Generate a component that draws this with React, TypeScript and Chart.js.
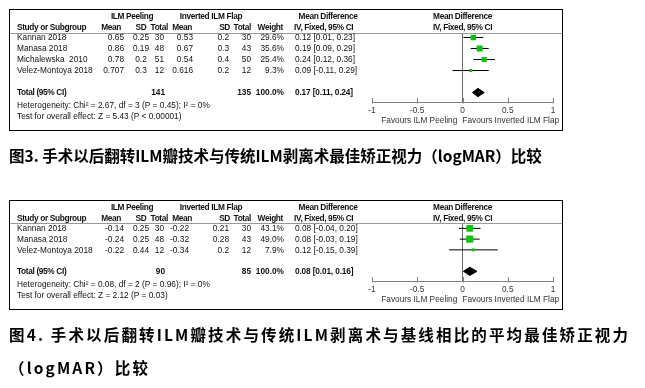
import React, { useEffect, useRef } from "react";
import { Chart, registerables } from "chart.js";

Chart.register(...registerables);

// ---------- Panel 1 (图3) data ----------
const P1_STUDIES = ["Kannan 2018", "Manasa 2018", "Michalewska  2010", "Velez-Montoya 2018"];
const P1_MEAN_PEEL = ["0.65", "0.86", "0.78", "0.707"];
const P1_SD_PEEL = ["0.25", "0.19", "0.2", "0.3"];
const P1_N_PEEL = [30, 48, 51, 12];
const P1_MEAN_FLAP = ["0.53", "0.67", "0.54", "0.616"];
const P1_SD_FLAP = ["0.2", "0.3", "0.4", "0.2"];
const P1_N_FLAP = [30, 43, 50, 12];
const P1_WEIGHT = [29.6, 35.6, 25.4, 9.3];
const P1_MD = [0.12, 0.19, 0.24, 0.09];
const P1_LO = [0.01, 0.09, 0.12, -0.11];
const P1_HI = [0.23, 0.29, 0.36, 0.29];
const P1_TOTAL_N = [141, 135];
const P1_TOTAL_CI = [0.17, 0.11, 0.24];
const P1_HET = "Heterogeneity: Chi\u00B2 = 2.67, df = 3 (P = 0.45); I\u00B2 = 0%";
const P1_TEST = "Test for overall effect: Z = 5.43 (P < 0.00001)";

// ---------- Panel 2 (图4) data ----------
const P2_STUDIES = ["Kannan 2018", "Manasa 2018", "Velez-Montoya 2018"];
const P2_MEAN_PEEL = ["-0.14", "-0.24", "-0.22"];
const P2_SD_PEEL = ["0.25", "0.25", "0.44"];
const P2_N_PEEL = [30, 48, 12];
const P2_MEAN_FLAP = ["-0.22", "-0.32", "-0.34"];
const P2_SD_FLAP = ["0.21", "0.28", "0.2"];
const P2_N_FLAP = [30, 43, 12];
const P2_WEIGHT = [43.1, 49.0, 7.9];
const P2_MD = [0.08, 0.08, 0.12];
const P2_LO = [-0.04, -0.03, -0.15];
const P2_HI = [0.2, 0.19, 0.39];
const P2_TOTAL_N = [90, 85];
const P2_TOTAL_CI = [0.08, 0.01, 0.16];
const P2_HET = "Heterogeneity: Chi\u00B2 = 0.08, df = 2 (P = 0.96); I\u00B2 = 0%";
const P2_TEST = "Test for overall effect: Z = 2.12 (P = 0.03)";

// ---------- shared axis / labels ----------
const AXIS_TICKS = [-1, -0.5, 0, 0.5, 1];
const AXIS_TICK_LABELS = ["-1", "-0.5", "0", "0.5", "1"];
const FAVOURS_LEFT = "Favours ILM Peeling";
const FAVOURS_RIGHT = "Favours Inverted ILM Flap";
const GROUP_A = "ILM Peeling";
const GROUP_B = "Inverted ILM Flap";
const COL_HEADERS = ["Study or Subgroup", "Mean", "SD", "Total", "Mean", "SD", "Total", "Weight"];
const MD_HEAD_1 = "Mean Difference";
const MD_HEAD_2 = "IV, Fixed, 95% CI";
const TOTAL_LABEL = "Total (95% CI)";

const CAPTION_1 = "图3. 手术以后翻转ILM瓣技术与传统ILM剥离术最佳矫正视力（logMAR）比较";
const CAPTION_2A = "图4. 手术以后翻转ILM瓣技术与传统ILM剥离术与基线相比的平均最佳矫正视力";
const CAPTION_2B = "（logMAR）比较";

const GREEN = "#10c010";
const FONT_FAMILY = '"Liberation Sans", Arial, sans-serif';
const FS = 8.3;
const FS_BOLD = 8.3;
const DIAMOND_HALF = 0.38;

type Panel = {
  studies: string[];
  meanA: string[]; sdA: string[]; nA: number[];
  meanB: string[]; sdB: string[]; nB: number[];
  weight: number[]; md: number[]; lo: number[]; hi: number[];
  totalN: number[]; totalCI: number[]; het: string; test: string;
  boxTop: number; boxBottom: number; areaTop: number; areaBottom: number;
  yMin: number; yMax: number; meanBRight: number;
};

const PANEL_1: Panel = {
  studies: P1_STUDIES, meanA: P1_MEAN_PEEL, sdA: P1_SD_PEEL, nA: P1_N_PEEL,
  meanB: P1_MEAN_FLAP, sdB: P1_SD_FLAP, nB: P1_N_FLAP, weight: P1_WEIGHT,
  md: P1_MD, lo: P1_LO, hi: P1_HI, totalN: P1_TOTAL_N, totalCI: P1_TOTAL_CI,
  het: P1_HET, test: P1_TEST,
  boxTop: 9, boxBottom: 130, areaTop: 33, areaBottom: 102, yMin: -0.41, yMax: 5.86, meanBRight: 193,
};

const PANEL_2: Panel = {
  studies: P2_STUDIES, meanA: P2_MEAN_PEEL, sdA: P2_SD_PEEL, nA: P2_N_PEEL,
  meanB: P2_MEAN_FLAP, sdB: P2_SD_FLAP, nB: P2_N_FLAP, weight: P2_WEIGHT,
  md: P2_MD, lo: P2_LO, hi: P2_HI, totalN: P2_TOTAL_N, totalCI: P2_TOTAL_CI,
  het: P2_HET, test: P2_TEST,
  boxTop: 200, boxBottom: 309, areaTop: 223, areaBottom: 281, yMin: -0.5, yMax: 4.9, meanBRight: 189,
};

const W = 645;
const H = 388;
const BOX_L = 9;
const BOX_R = 562;
const PLOT_L = 372;
const PLOT_R = 553;

const mdText = (m: number, l: number, h: number) => `${m.toFixed(2)} [${l.toFixed(2)}, ${h.toFixed(2)}]`;

function text(ctx: CanvasRenderingContext2D, s: string, x: number, y: number, align: CanvasTextAlign, bold = false, color = "#111", spacing = "-0.35px") {
  ctx.font = `${bold ? "bold " : ""}${bold ? FS_BOLD : FS}px ${FONT_FAMILY}`;
  (ctx as any).letterSpacing = bold ? spacing : "0px";
  ctx.textAlign = align;
  ctx.textBaseline = "middle";
  ctx.fillStyle = color;
  ctx.fillText(s, x, y);
}

function makePlugin(p: Panel) {
  return {
    id: "forestTable",
    afterDraw(chart: any) {
      const ctx: CanvasRenderingContext2D = chart.ctx;
      const xs = chart.scales.x;
      const ys = chart.scales.y;
      const area = chart.chartArea;
      ctx.save();
      // frame
      ctx.strokeStyle = "#000";
      ctx.lineWidth = 1;
      ctx.strokeRect(BOX_L + 0.5, p.boxTop + 0.5, BOX_R - BOX_L, p.boxBottom - p.boxTop);
      // header separator
      ctx.strokeStyle = "#9a9a9a";
      ctx.beginPath();
      ctx.moveTo(BOX_L + 1, Math.round(area.top) + 0.5);
      ctx.lineTo(BOX_R, Math.round(area.top) + 0.5);
      ctx.stroke();

      // headers
      const h1 = p.boxTop + 8;
      const h2 = p.boxTop + 18.5;
      text(ctx, GROUP_A, 132, h1, "center", true);
      text(ctx, GROUP_B, 211, h1, "center", true);
      text(ctx, MD_HEAD_1, 328, h1, "center", true);
      text(ctx, COL_HEADERS[0], 17, h2, "left", true);
      text(ctx, COL_HEADERS[1], 121, h2, "right", true);
      text(ctx, COL_HEADERS[2], 141, h2, "center", true);
      text(ctx, COL_HEADERS[3], 168, h2, "right", true);
      text(ctx, COL_HEADERS[4], 192, h2, "right", true);
      text(ctx, COL_HEADERS[5], 230, h2, "right", true);
      text(ctx, COL_HEADERS[6], 251, h2, "right", true);
      text(ctx, COL_HEADERS[7], 283, h2, "right", true);
      text(ctx, MD_HEAD_2, 294, h2, "left", true);
      const x0 = xs.getPixelForValue(0);
      text(ctx, MD_HEAD_1, x0, h1, "center", true);
      text(ctx, MD_HEAD_2, x0, h2, "center", true);

      // study rows
      p.studies.forEach((s, i) => {
        const y = ys.getPixelForValue(i) + 0.5;
        text(ctx, s, 17, y, "left");
        text(ctx, p.meanA[i], 124, y, "right");
        text(ctx, p.sdA[i], 141, y, "center");
        text(ctx, String(p.nA[i]), 164, y, "right");
        text(ctx, p.meanB[i], p.meanBRight, y, "right");
        text(ctx, p.sdB[i], 229, y, "right");
        text(ctx, String(p.nB[i]), 251, y, "right");
        text(ctx, `${p.weight[i].toFixed(1)}%`, 284, y, "right");
        text(ctx, mdText(p.md[i], p.lo[i], p.hi[i]), 295, y, "left");
      });

      // total row
      const totalRow = p.studies.length + 1;
      const ty = ys.getPixelForValue(totalRow) + 0.5;
      text(ctx, TOTAL_LABEL, 17, ty, "left", true);
      text(ctx, String(p.totalN[0]), 165, ty, "right", true, "#111", "0px");
      text(ctx, String(p.totalN[1]), 251, ty, "right", true, "#111", "0px");
      text(ctx, "100.0%", 284, ty, "right", true, "#111", "0px");
      text(ctx, mdText(p.totalCI[0], p.totalCI[1], p.totalCI[2]), 295, ty, "left", true, "#111", "-0.15px");
      text(ctx, p.het, 17, ty + 13, "left");
      text(ctx, p.test, 17, ty + 24, "left");

      // x axis
      const ay = Math.round(area.bottom) + 0.5;
      ctx.strokeStyle = "#808080";
      ctx.beginPath();
      ctx.moveTo(xs.getPixelForValue(AXIS_TICKS[0]), ay);
      ctx.lineTo(xs.getPixelForValue(AXIS_TICKS[AXIS_TICKS.length - 1]), ay);
      AXIS_TICKS.forEach((t) => {
        const tx = Math.round(xs.getPixelForValue(t)) + 0.5;
        ctx.moveTo(tx, ay - 4.5);
        ctx.lineTo(tx, ay + 1);
      });
      ctx.stroke();
      AXIS_TICKS.forEach((t, i) => {
        text(ctx, AXIS_TICK_LABELS[i], xs.getPixelForValue(t), ay + 8, "center", false, "#333");
      });
      text(ctx, FAVOURS_LEFT, xs.getPixelForValue(-0.5) + 2, ay + 18, "center", false, "#333");
      text(ctx, FAVOURS_RIGHT, xs.getPixelForValue(0.5) + 3, ay + 18, "center", false, "#333");
      ctx.restore();
    },
  };
}

function buildConfig(p: Panel): any {
  const totalRow = p.studies.length + 1;
  const [est, lo, hi] = p.totalCI;
  const whiskers = p.studies.map((_, i) => ({
    type: "scatter",
    data: [{ x: p.lo[i], y: i }, { x: p.hi[i], y: i }],
    showLine: true,
    borderColor: "#000",
    borderWidth: 1,
    pointRadius: 0,
    order: 2,
  }));
  const squares = {
    type: "scatter",
    data: p.md.map((v, i) => ({ x: v, y: i })),
    pointStyle: "rect",
    pointRadius: p.weight.map((w) => Math.sqrt(w) * 0.72),
    backgroundColor: GREEN,
    borderColor: GREEN,
    borderWidth: 0,
    order: 0,
  };
  const diamond = {
    type: "line",
    data: [
      { x: lo, y: totalRow },
      { x: est, y: totalRow - DIAMOND_HALF },
      { x: hi, y: totalRow },
      { x: est, y: totalRow + DIAMOND_HALF },
      { x: lo, y: totalRow },
    ],
    borderColor: "#000",
    backgroundColor: "#000",
    borderWidth: 1,
    pointRadius: 0,
    fill: "shape",
    tension: 0,
    order: 1,
  };
  const zero = {
    type: "scatter",
    data: [{ x: 0, y: p.yMin }, { x: 0, y: p.yMax }],
    showLine: true,
    borderColor: "#6a6a6a",
    borderWidth: 1,
    pointRadius: 0,
    order: 3,
  };
  return {
    type: "scatter",
    data: { datasets: [squares, diamond, ...whiskers, zero] },
    options: {
      animation: false,
      responsive: false,
      devicePixelRatio: 1,
      events: [],
      layout: {
        padding: { left: PLOT_L, right: W - PLOT_R, top: p.areaTop, bottom: H - p.areaBottom },
      },
      scales: {
        x: { type: "linear", min: -1, max: 1, display: false },
        y: { type: "linear", min: p.yMin, max: p.yMax, reverse: true, display: false },
      },
      plugins: { legend: { display: false }, tooltip: { enabled: false } },
    },
    plugins: [makePlugin(p)],
  };
}

function ForestPanel({ panel }: { panel: Panel }) {
  const ref = useRef<HTMLCanvasElement | null>(null);
  useEffect(() => {
    if (!ref.current) return;
    const chart = new Chart(ref.current, buildConfig(panel));
    return () => chart.destroy();
  }, [panel]);
  return (
    <canvas
      ref={ref}
      width={W}
      height={H}
      style={{ position: "absolute", left: 0, top: 0, width: W, height: H, pointerEvents: "none" }}
    />
  );
}

const captionStyle: React.CSSProperties = {
  position: "absolute",
  left: 9,
  fontFamily: '"Noto Sans CJK SC", "Noto Sans", sans-serif',
  fontWeight: 700,
  fontSize: 15.5,
  lineHeight: "20px",
  whiteSpace: "nowrap",
  color: "#000",
};

export default function App() {
  return (
    <div style={{ position: "absolute", left: 0, top: 0, width: W, height: H, background: "#fff", overflow: "hidden" }}>
      <ForestPanel panel={PANEL_1} />
      <div style={{ ...captionStyle, top: 145 }}>{CAPTION_1}</div>
      <ForestPanel panel={PANEL_2} />
      <div style={{ ...captionStyle, top: 324, letterSpacing: "2.15px" }}>{CAPTION_2A}</div>
      <div style={{ ...captionStyle, top: 357, letterSpacing: "2.15px" }}>{CAPTION_2B}</div>
    </div>
  );
}
